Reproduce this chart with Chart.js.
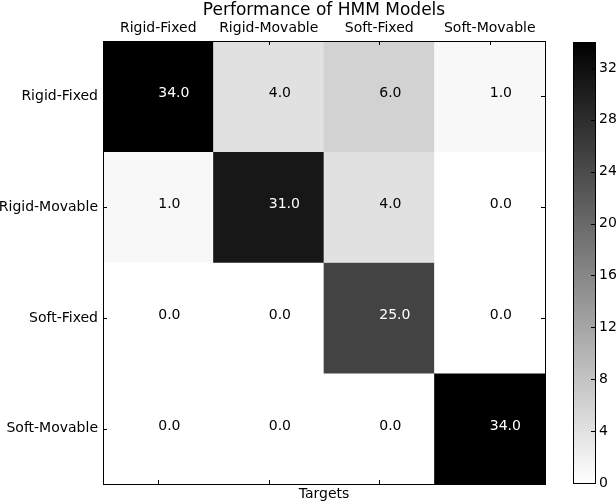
<!DOCTYPE html>
<html>
<head>
<meta charset="utf-8">
<script src="https://cdn.jsdelivr.net/npm/chart.js@4/dist/chart.umd.min.js"></script>
<style>
  body { margin: 0; background: #fff; }
  #wrap { position: relative; width: 616px; height: 504px; }
  canvas { position: absolute; left: 0; top: 0; }
</style>
</head>
<body>
<div id="wrap">
  <canvas id="matriz" width="616" height="504"></canvas>
  <canvas id="barra" width="616" height="504"></canvas>
</div>
<script>
// filas (predicciones) y columnas (targets)
const filas = ['Rigid-Fixed', 'Rigid-Movable', 'Soft-Fixed', 'Soft-Movable'];
const columnas = ['Rigid-Fixed', 'Rigid-Movable', 'Soft-Fixed', 'Soft-Movable'];
const filaRigidFixed = [34, 4, 6, 1];
const filaRigidMovable = [1, 31, 4, 0];
const filaSoftFixed = [0, 0, 25, 0];
const filaSoftMovable = [0, 0, 0, 34];
const valores = [filaRigidFixed, filaRigidMovable, filaSoftFixed, filaSoftMovable];
const maxValor = 34;
const ticksBarra = [0, 4, 8, 12, 16, 20, 24, 28, 32];
const titulo = 'Performance of HMM Models';

const fuente = "'DejaVu Sans', sans-serif";

function gris(v) {
  const g = Math.round(255 * (1 - v / maxValor));
  return `rgb(${g},${g},${g})`;
}

// titulo centrado sobre la matriz, marco, marcas hacia dentro y textos de las celdas
const extras = {
  id: 'extras',
  afterDatasetsDraw(chart) {
    const ctx = chart.ctx;
    const a = chart.chartArea;
    const x = chart.scales.x;
    const y = chart.scales.y;
    ctx.save();
    ctx.fillStyle = '#000';
    ctx.font = '17px ' + fuente;
    ctx.textAlign = 'center';
    ctx.textBaseline = 'alphabetic';
    ctx.fillText(titulo, (a.left + a.right) / 2, 15);

    ctx.strokeStyle = '#000';
    ctx.lineWidth = 1;
    columnas.forEach((c, i) => {
      const px = Math.round(x.getPixelForTick(i)) + 0.5;
      ctx.beginPath();
      ctx.moveTo(px, a.top); ctx.lineTo(px, a.top + 4);
      ctx.moveTo(px, a.bottom); ctx.lineTo(px, a.bottom - 4);
      ctx.stroke();
    });
    filas.forEach((f, i) => {
      const py = Math.round(y.getPixelForValue(i + 0.5)) + 0.5;
      ctx.beginPath();
      ctx.moveTo(a.left, py); ctx.lineTo(a.left + 4, py);
      ctx.moveTo(a.right, py); ctx.lineTo(a.right - 4, py);
      ctx.stroke();
    });
    ctx.strokeRect(Math.round(a.left) + 0.5, Math.round(a.top) + 0.5,
      Math.round(a.right - a.left), Math.round(a.bottom - a.top));

    ctx.font = '14px ' + fuente;
    ctx.textAlign = 'left';
    ctx.textBaseline = 'alphabetic';
    valores.forEach((fila, r) => {
      fila.forEach((v, c) => {
        ctx.fillStyle = v > maxValor / 2 ? '#fff' : '#000';
        ctx.fillText(v.toFixed(1), x.getPixelForTick(c), y.getPixelForValue(r + 0.5) + 1);
      });
    });
    ctx.restore();
  }
};

new Chart(document.getElementById('matriz'), {
  type: 'bar',
  data: {
    labels: columnas,
    datasets: valores.map((fila, r) => ({
      label: filas[r],
      data: fila.map(() => [r, r + 1]),
      backgroundColor: fila.map(v => gris(v)),
      borderWidth: 0,
      grouped: false,
      barPercentage: 1,
      categoryPercentage: 1
    }))
  },
  options: {
    responsive: false,
    animation: false,
    layout: { padding: { left: 0, right: 71, top: 0, bottom: 0 } },
    plugins: {
      legend: { display: false },
      tooltip: { enabled: false },
      title: { display: false }
    },
    scales: {
      x: {
        position: 'top',
        grid: { display: false, drawTicks: false },
        border: { display: false },
        ticks: { color: '#000', padding: 4, maxRotation: 0, font: { family: fuente, size: 14 } },
        afterFit: s => { s.height = 41; }
      },
      x2: {
        type: 'category',
        labels: columnas,
        position: 'bottom',
        grid: { display: false, drawTicks: false },
        border: { display: false },
        ticks: { display: false },
        title: {
          display: true,
          text: 'Targets',
          color: '#000',
          font: { family: fuente, size: 14 },
          padding: { top: 0, bottom: 1 }
        },
        afterFit: s => { s.height = 20; }
      },
      y: {
        type: 'linear',
        min: 0,
        max: 4,
        reverse: true,
        grid: { display: false, drawTicks: false },
        border: { display: false },
        afterBuildTicks: s => { s.ticks = filas.map((f, i) => ({ value: i + 0.5 })); },
        ticks: {
          color: '#000',
          padding: 5,
          font: { family: fuente, size: 14 },
          callback: v => filas[Math.floor(v)]
        },
        afterFit: s => { s.width = 103; }
      }
    }
  },
  plugins: [extras]
});

// barra de color
const marcoBarra = {
  id: 'marcoBarra',
  afterDatasetsDraw(chart) {
    const ctx = chart.ctx;
    const a = chart.chartArea;
    const y = chart.scales.y;
    ctx.save();
    ctx.strokeStyle = '#000';
    ctx.lineWidth = 1;
    ctx.strokeRect(Math.round(a.left) + 0.5, Math.round(a.top) + 0.5,
      Math.round(a.right - a.left), Math.round(a.bottom - a.top));
    ticksBarra.forEach(t => {
      const py = Math.round(y.getPixelForValue(t)) + 0.5;
      ctx.beginPath();
      ctx.moveTo(a.right, py); ctx.lineTo(a.right - 4, py);
      ctx.stroke();
    });
    ctx.restore();
  }
};

new Chart(document.getElementById('barra'), {
  type: 'bar',
  data: {
    labels: [''],
    datasets: [{
      data: [[0, maxValor]],
      backgroundColor: (c) => {
        const a = c.chart.chartArea;
        if (!a) return '#888';
        const g = c.chart.ctx.createLinearGradient(0, a.bottom, 0, a.top);
        g.addColorStop(0, '#fff');
        g.addColorStop(1, '#000');
        return g;
      },
      borderWidth: 0,
      barPercentage: 1,
      categoryPercentage: 1
    }]
  },
  options: {
    responsive: false,
    animation: false,
    layout: { padding: { left: 573, right: 0, top: 42, bottom: 21 } },
    plugins: { legend: { display: false }, tooltip: { enabled: false } },
    scales: {
      x: { display: false },
      y: {
        position: 'right',
        min: 0,
        max: maxValor,
        grid: { display: false, drawTicks: false },
        border: { display: false },
        afterBuildTicks: s => { s.ticks = ticksBarra.map(v => ({ value: v })); },
        ticks: { color: '#000', padding: 4, font: { family: fuente, size: 14 } },
        afterFit: s => { s.width = 21; }
      }
    }
  },
  plugins: [marcoBarra]
});
</script>
</body>
</html>
